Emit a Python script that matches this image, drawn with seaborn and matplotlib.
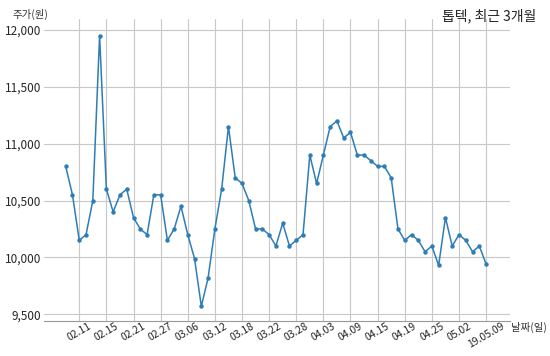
import matplotlib
matplotlib.use('Agg')
import matplotlib.pyplot as plt
import pandas as pd
import seaborn as sns

dates = ['02.07', '02.08', '02.11', '02.12', '02.13', '02.14', '02.15', '02.18', '02.19', '02.20',
         '02.21', '02.22', '02.25', '02.26', '02.27', '02.28', '03.04', '03.05', '03.06', '03.07',
         '03.08', '03.11', '03.12', '03.13', '03.14', '03.15', '03.18', '03.19', '03.20', '03.21',
         '03.22', '03.25', '03.26', '03.27', '03.28', '03.29', '04.01', '04.02', '04.03', '04.04',
         '04.05', '04.08', '04.09', '04.10', '04.11', '04.12', '04.15', '04.16', '04.17', '04.18',
         '04.19', '04.22', '04.23', '04.24', '04.25', '04.26', '04.29', '04.30', '05.02', '05.03',
         '05.07', '05.08', '19.05.09']
prices = [10800, 10550, 10150, 10200, 10500, 11950, 10600, 10400, 10550, 10600,
          10350, 10250, 10200, 10550, 10550, 10150, 10250, 10450, 10200, 9990,
          9570, 9820, 10250, 10600, 11150, 10700, 10650, 10500, 10250, 10250,
          10200, 10100, 10300, 10100, 10150, 10200, 10900, 10650, 10900, 11150,
          11200, 11050, 11100, 10900, 10900, 10850, 10800, 10800, 10700, 10250,
          10150, 10200, 10150, 10050, 10100, 9930, 10350, 10100, 10200, 10150,
          10050, 10100, 9940]
yticks = [9500, 10000, 10500, 11000, 11500, 12000]

df = pd.DataFrame({'idx': range(len(dates)), 'date': dates, 'price': prices})

sns.set_style('whitegrid')
plt.rcParams['font.family'] = ['Noto Sans CJK KR', 'DejaVu Sans']

fig = plt.figure(figsize=(5.5, 3.56), dpi=100)
ax = fig.add_axes([0.08, 0.098, 0.847, 0.85])
sns.lineplot(data=df, x='idx', y='price', ax=ax, color='#2f7db5', linewidth=1.1,
             marker='o', markersize=3.2, markeredgewidth=0)

# x ticks every 4 trading days, starting from 02.11
tick_pos = list(range(2, len(dates), 4))
ax.set_xticks(tick_pos)
ax.set_xticklabels([dates[i] for i in tick_pos], rotation=30, fontsize=7.5)
ax.set_yticks(yticks)
ax.set_yticklabels([f'{v:,}' for v in yticks], fontsize=8.5)
ax.set_xlim(-3.2, 65.5)
ax.set_ylim(9440, 12100)
ax.tick_params(axis='both', length=0, pad=2)
ax.tick_params(axis='x', pad=0)
ax.grid(True, color='#c8c8c8', linewidth=0.8)
for s in ['top', 'right', 'left']:
    ax.spines[s].set_visible(False)
ax.spines['bottom'].set_color('#999999')
ax.spines['bottom'].set_linewidth(0.8)
ax.set_xlabel('')
ax.set_ylabel('')

fig.text(0.022, 0.975, '주가(원)', fontsize=7.5, color='#333333', va='top')
fig.text(0.929, 0.07, '날짜(일)', fontsize=7.5, color='#333333', ha='left')
fig.text(0.975, 0.975, '톱텍, 최근 3개월', fontsize=10, color='#222222', ha='right', va='top')

fig.savefig('out.png', dpi=100)
plt.close(fig)
